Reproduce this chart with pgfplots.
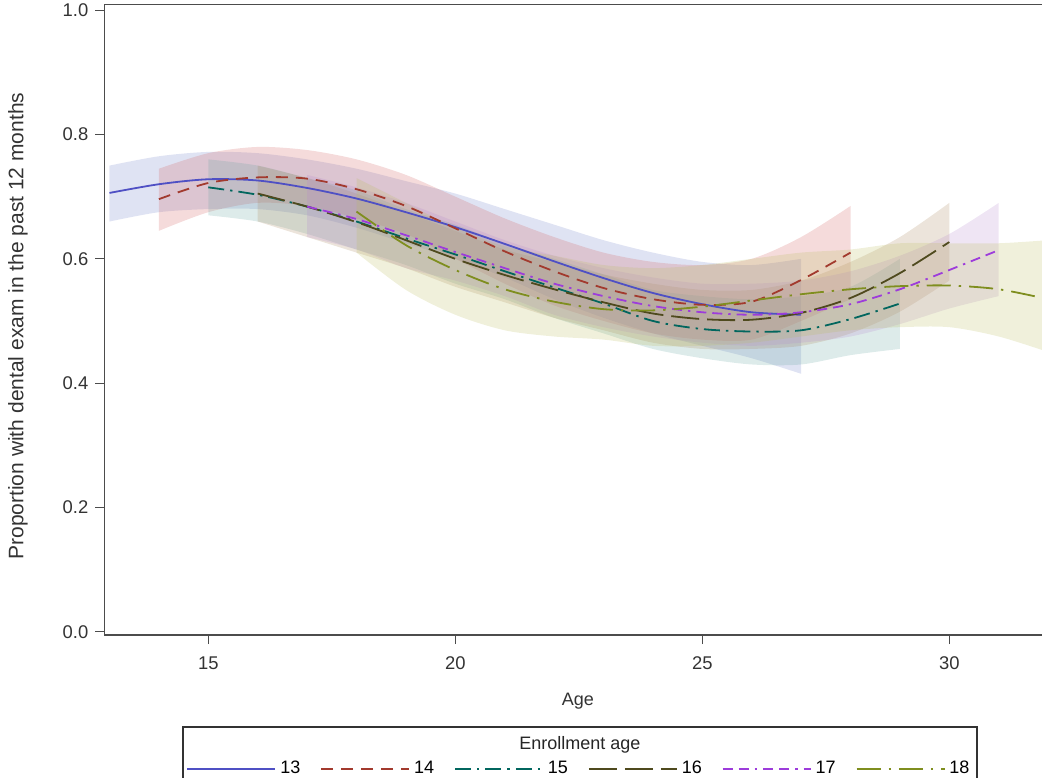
\documentclass[border=0pt]{standalone}
\usepackage{fontspec}
\setmainfont{Liberation Sans}
\usepackage{pgfplots}
\pgfplotsset{compat=1.18}
\usepgfplotslibrary{fillbetween}
\definecolor{c13}{HTML}{4F50C4}
\definecolor{c14}{HTML}{A23A2E}
\definecolor{c15}{HTML}{01665E}
\definecolor{c16}{HTML}{4F4A1E}
\definecolor{c17}{HTML}{9D3CDB}
\definecolor{c18}{HTML}{7F8E1F}
\definecolor{f13}{HTML}{6F7EC8}
\definecolor{f14}{HTML}{D05B5B}
\definecolor{f15}{HTML}{66A5A0}
\definecolor{f16}{HTML}{A9865B}
\definecolor{f17}{HTML}{B689CD}
\definecolor{f18}{HTML}{BABC5C}
\newcommand{\fs}{\fontsize{9.2}{11}\selectfont}
\newcommand{\fl}{\fontsize{9}{11}\selectfont}
\newcommand{\fy}{\fontsize{10.5}{12}\selectfont}
\begin{document}
\begin{tikzpicture}
\begin{axis}[
  width=468.85pt, height=315.25pt, scale only axis,
  xmin=12.895, xmax=31.876, ymin=-0.0053, ymax=1.0092,
  axis x line*=box, axis y line*=left,
  axis line style={-, line width=0.7pt, color=black!70},
  xtick={15,20,25,30}, ytick={0,0.2,0.4,0.6,0.8,1.0},
  yticklabel style={/pgf/number format/.cd, fixed, fixed zerofill, precision=1},
  /pgf/number format/assume math mode=true,
  tick align=outside, major tick length=4.5pt,
  tick style={black!70, line width=0.6pt},
  xtick pos=left, ytick pos=left,
  tick label style={font=\fs, text=black!80},
  xticklabel style={yshift=-3pt},
  xlabel={Age},
  ylabel={Proportion with dental exam in the past 12 months},
  xlabel style={font=\fl, text=black!80, at={(axis description cs:0.505,-0.1047)}, anchor=center},
  ylabel style={font=\fy, text=black!80, at={(axis description cs:-0.092,0.49)}, anchor=center},
  legend columns=6,
  legend style={at={(axis description cs:0.5073,-0.2125)}, anchor=center,
    draw=none, fill=none, font=\fl, inner sep=0pt,
    /tikz/every even column/.append style={column sep=8pt}},
  legend image code/.code={\draw[#1] (0pt,0pt) -- (44pt,0pt);},
]
% ---- confidence bands ----
\addplot[name path=u13, draw=none, smooth, forget plot] coordinates {(13,0.750)(14,0.765)(15,0.772)(16,0.770)(17,0.760)(18,0.745)(19,0.725)(20,0.705)(21,0.680)(22,0.655)(23,0.630)(24,0.610)(25,0.595)(26,0.590)(27,0.600)};
\addplot[name path=l13, draw=none, smooth, forget plot] coordinates {(13,0.660)(14,0.675)(15,0.680)(16,0.680)(17,0.670)(18,0.650)(19,0.625)(20,0.600)(21,0.570)(22,0.535)(23,0.505)(24,0.480)(25,0.460)(26,0.440)(27,0.415)};
\addplot[fill=f13, fill opacity=0.22, draw=none, forget plot] fill between[of=u13 and l13];

\addplot[name path=u14, draw=none, smooth, forget plot] coordinates {(14,0.745)(15,0.770)(16,0.780)(17,0.775)(18,0.760)(19,0.735)(20,0.700)(21,0.665)(22,0.635)(23,0.610)(24,0.595)(25,0.590)(26,0.600)(27,0.635)(28,0.685)};
\addplot[name path=l14, draw=none, smooth, forget plot] coordinates {(14,0.645)(15,0.675)(16,0.690)(17,0.685)(18,0.665)(19,0.640)(20,0.600)(21,0.560)(22,0.525)(23,0.500)(24,0.480)(25,0.470)(26,0.470)(27,0.500)(28,0.535)};
\addplot[fill=f14, fill opacity=0.22, draw=none, forget plot] fill between[of=u14 and l14];

\addplot[name path=u15, draw=none, smooth, forget plot] coordinates {(15,0.760)(16,0.750)(17,0.730)(18,0.710)(19,0.680)(20,0.655)(21,0.625)(22,0.600)(23,0.575)(24,0.550)(25,0.540)(26,0.535)(27,0.540)(28,0.555)(29,0.600)};
\addplot[name path=l15, draw=none, smooth, forget plot] coordinates {(15,0.670)(16,0.660)(17,0.640)(18,0.615)(19,0.590)(20,0.560)(21,0.535)(22,0.505)(23,0.480)(24,0.455)(25,0.440)(26,0.430)(27,0.430)(28,0.445)(29,0.455)};
\addplot[fill=f15, fill opacity=0.22, draw=none, forget plot] fill between[of=u15 and l15];

\addplot[name path=u16, draw=none, smooth, forget plot] coordinates {(16,0.750)(17,0.730)(18,0.705)(19,0.675)(20,0.645)(21,0.615)(22,0.595)(23,0.575)(24,0.560)(25,0.550)(26,0.550)(27,0.565)(28,0.595)(29,0.635)(30,0.690)};
\addplot[name path=l16, draw=none, smooth, forget plot] coordinates {(16,0.660)(17,0.635)(18,0.610)(19,0.585)(20,0.555)(21,0.530)(22,0.505)(23,0.485)(24,0.465)(25,0.455)(26,0.455)(27,0.460)(28,0.480)(29,0.515)(30,0.565)};
\addplot[fill=f16, fill opacity=0.22, draw=none, forget plot] fill between[of=u16 and l16];

\addplot[name path=u17, draw=none, smooth, forget plot] coordinates {(17,0.735)(18,0.715)(19,0.690)(20,0.660)(21,0.630)(22,0.605)(23,0.585)(24,0.570)(25,0.560)(26,0.560)(27,0.565)(28,0.580)(29,0.605)(30,0.640)(31,0.690)};
\addplot[name path=l17, draw=none, smooth, forget plot] coordinates {(17,0.635)(18,0.615)(19,0.585)(20,0.565)(21,0.540)(22,0.510)(23,0.490)(24,0.475)(25,0.465)(26,0.460)(27,0.465)(28,0.475)(29,0.495)(30,0.520)(31,0.540)};
\addplot[fill=f17, fill opacity=0.22, draw=none, forget plot] fill between[of=u17 and l17];

\addplot[name path=u18, draw=none, smooth, forget plot] coordinates {(18,0.730)(19,0.690)(20,0.650)(21,0.620)(22,0.605)(23,0.590)(24,0.585)(25,0.590)(26,0.600)(27,0.610)(28,0.615)(29,0.625)(30,0.625)(31,0.625)(32,0.630)};
\addplot[name path=l18, draw=none, smooth, forget plot] coordinates {(18,0.610)(19,0.550)(20,0.510)(21,0.485)(22,0.475)(23,0.470)(24,0.460)(25,0.460)(26,0.465)(27,0.475)(28,0.485)(29,0.490)(30,0.490)(31,0.475)(32,0.450)};
\addplot[fill=f18, fill opacity=0.22, draw=none, forget plot] fill between[of=u18 and l18];

% ---- estimated curves ----
\addplot[c13, line width=0.9pt, smooth] coordinates {(13,0.706)(14,0.720)(15,0.728)(16,0.726)(17,0.714)(18,0.697)(19,0.675)(20,0.651)(21,0.624)(22,0.596)(23,0.569)(24,0.545)(25,0.527)(26,0.514)(27,0.510)};
\addlegendentry{13}
\addplot[c14, line width=0.9pt, smooth, dash pattern=on 6pt off 4pt] coordinates {(14,0.696)(15,0.722)(16,0.731)(17,0.729)(18,0.712)(19,0.685)(20,0.649)(21,0.612)(22,0.580)(23,0.553)(24,0.535)(25,0.526)(26,0.531)(27,0.566)(28,0.610)};
\addlegendentry{14}
\addplot[c15, line width=0.9pt, smooth, dash pattern=on 8pt off 3pt on 1.2pt off 3pt] coordinates {(15,0.715)(16,0.703)(17,0.684)(18,0.660)(19,0.633)(20,0.607)(21,0.580)(22,0.554)(23,0.528)(24,0.500)(25,0.487)(26,0.483)(27,0.485)(28,0.503)(29,0.528)};
\addlegendentry{15}
\addplot[c16, line width=0.9pt, smooth, dash pattern=on 14pt off 4pt] coordinates {(16,0.705)(17,0.684)(18,0.659)(19,0.630)(20,0.600)(21,0.574)(22,0.551)(23,0.530)(24,0.512)(25,0.503)(26,0.502)(27,0.513)(28,0.537)(29,0.577)(30,0.627)};
\addlegendentry{16}
\addplot[c17, line width=0.9pt, smooth, dash pattern=on 5pt off 3pt on 5pt off 3pt on 1.2pt off 3pt] coordinates {(17,0.684)(18,0.664)(19,0.638)(20,0.611)(21,0.585)(22,0.560)(23,0.540)(24,0.524)(25,0.514)(26,0.510)(27,0.514)(28,0.527)(29,0.551)(30,0.582)(31,0.614)};
\addlegendentry{17}
\addplot[c18, line width=0.9pt, smooth, dash pattern=on 12pt off 4pt on 1.2pt off 4pt] coordinates {(18,0.676)(19,0.622)(20,0.582)(21,0.551)(22,0.531)(23,0.519)(24,0.517)(25,0.523)(26,0.533)(27,0.543)(28,0.551)(29,0.556)(30,0.557)(31,0.551)(32,0.535)};
\addlegendentry{18}
\coordinate (SW) at (rel axis cs:0,0);
\coordinate (NE) at (rel axis cs:1,1);
\end{axis}
\draw[black!80, line width=0.6pt] ([xshift=39.35pt,yshift=-46pt]SW) rectangle ([xshift=436.35pt,yshift=-73pt]SW);
\node[font=\fl, text=black!85] at ([xshift=237.85pt,yshift=-55pt]SW) {Enrollment age};
\pgfresetboundingbox
\path[use as bounding box] ([xshift=-52.15pt,yshift=-71pt]SW) rectangle ([yshift=2.25pt]NE);
\end{tikzpicture}
\end{document}
